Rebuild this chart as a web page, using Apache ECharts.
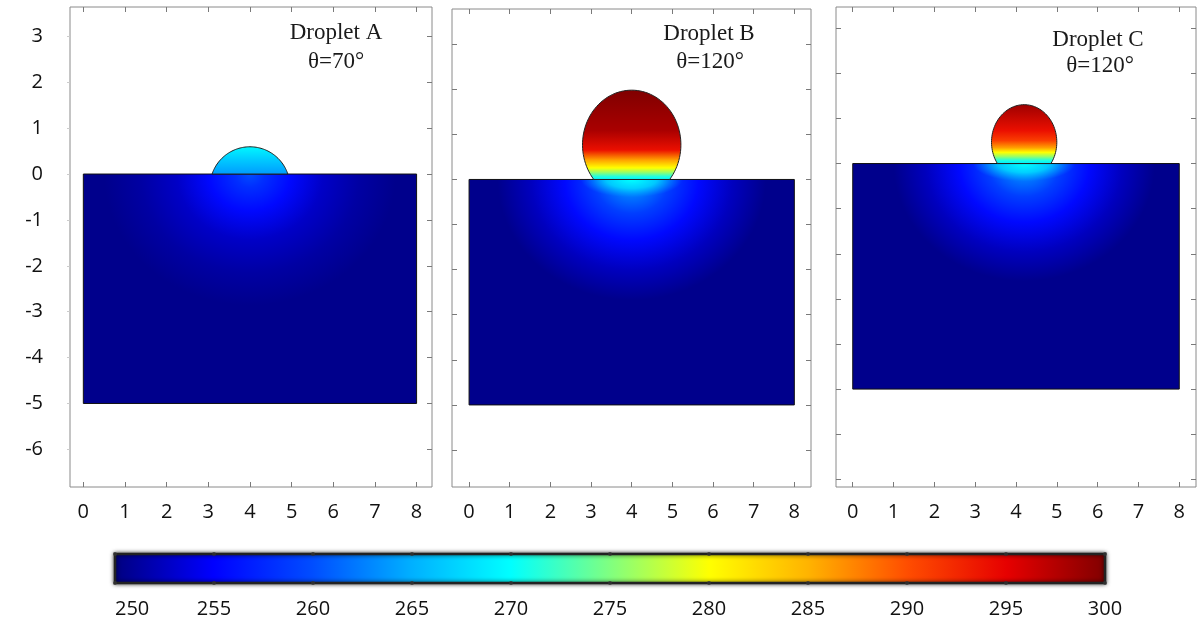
<!DOCTYPE html>
<html lang="en">
<head>
<meta charset="UTF-8">
<title>Droplet temperature</title>
<script src="https://cdn.jsdelivr.net/npm/echarts@6/dist/echarts.min.js"></script>
</head>
<body style="margin:0;background:#fff">
<div id="main" style="width:1199px;height:626px;"></div>
<script>
// tick labels
var xTicks = [0, 1, 2, 3, 4, 5, 6, 7, 8];
var yTicks = [[3, 2, 1, 0, -1, -2, -3, -4, -5, -6], [3, 2, 1, 0, -1, -2, -3, -4, -5, -6], [3, 2, 1, 0, -1, -2, -3, -4, -5, -6, -7]];

// colour bar (K) and the colour at each tick
var barTicks = [250, 255, 260, 265, 270, 275, 280, 285, 290, 295, 300];
var barColors = ['#00007f', '#0000ff', '#004dff', '#00b0ff', '#00ffff', '#80ff80', '#ffff00', '#ffb300', '#ff4d00', '#e60000', '#800000'];

var panelNames = ['Droplet A', 'Droplet B', 'Droplet C'];
var angleText = ['θ=70°', 'θ=120°', 'θ=120°'];

// substrate block, axis units
var substrateX = [0, 8];
var substrateY = [-5, 0];
var substrateTemp = 250.5;

// droplet outline = ellipse cut at y = 0
var dropCx = [4.0, 4.0, 4.2];
var dropCy = [-0.28, 0.77, 0.475];
var dropRx = [0.96, 1.21, 0.80];
var dropRy = [0.874, 1.21, 0.83];

// temperature inside the drop, from top (0) to contact line (1)
var dropPos = [[0, 0.5, 1], [0, 0.45, 0.67, 0.78, 0.87, 0.92, 0.97, 1], [0, 0.44, 0.61, 0.73, 0.81, 0.88, 0.95, 1]];
var dropTemp = [[269.5, 266.5, 264], [300, 298, 294, 286, 280, 276, 271, 270], [298.5, 294, 291, 286, 280, 276, 271, 269]];

// warm zone in substrate under the drop
var glowPos = [0, 0.1, 0.28, 0.5, 0.75, 1];
var glowTemp = [[260, 258, 255.5, 252.8, 251.4, substrateTemp], [266, 263, 259, 255.5, 252.5, substrateTemp], [266, 263, 259, 255.5, 252.5, substrateTemp]];
var glowRadius = [3.5, 3.3, 3.2];
var coreTemp = [null, [270, 268, 265], [270, 268, 265]];

// panel frames
var xMin = [-0.32, -0.42, -0.41], xMax = [8.37, 8.41, 8.41];
var yMin = [-6.82, -6.82, -7.17], yMax = [3.64, 3.78, 3.47];
var gridBox = [[70, 7, 362, 480], [452, 9, 359, 478], [836, 7, 360, 480]];
var labelPos = [[336, 33, 336, 62], [709, 34, 710, 62], [1098, 40, 1100, 66]];

function jet(t) {
    var f = (t - barTicks[0]) / (barTicks[barTicks.length - 1] - barTicks[0]);
    return echarts.color.lerp(Math.max(0, Math.min(1, f)), barColors);
}

function substrateItem(i) {
    return function (params, api) {
        var p0 = api.coord([substrateX[0], substrateY[1]]);
        var p1 = api.coord([substrateX[1], substrateY[0]]);
        var c = api.coord([dropCx[i], substrateY[1]]);
        var w = p1[0] - p0[0], h = p1[1] - p0[1];
        var r = api.size([glowRadius[i], 0])[0];
        var sq = 0.9;
        var stops = glowPos.map(function (p, k) { return { offset: p, color: jet(glowTemp[i][k]) }; });
        var kids = [{
            type: 'rect',
            shape: { x: p0[0], y: c[1], width: w, height: h / sq },
            originX: c[0], originY: c[1], scaleY: sq,
            style: { fill: { type: 'radial', x: c[0], y: c[1], r: r, global: true, colorStops: stops } }
        }];
        if (coreTemp[i]) {
            var rc = api.size([1.25, 0])[0];
            var sc = 0.35;
            var ct = coreTemp[i];
            kids.push({
                type: 'rect',
                shape: { x: p0[0], y: c[1], width: w, height: h / sc },
                originX: c[0], originY: c[1], scaleY: sc,
                style: {
                    fill: {
                        type: 'radial', x: c[0], y: c[1], r: rc, global: true, colorStops: [
                            { offset: 0, color: jet(ct[0]) },
                            { offset: 0.5, color: echarts.color.modifyAlpha(jet(ct[1]), 0.8) },
                            { offset: 1, color: echarts.color.modifyAlpha(jet(ct[2]), 0) }
                        ]
                    }
                }
            });
        }
        kids.push({
            type: 'rect',
            shape: { x: p0[0], y: p0[1], width: w, height: h },
            style: { fill: 'none', stroke: '#111', lineWidth: 1 }
        });
        return { type: 'group', children: kids };
    };
}

function dropItem(i) {
    return function (params, api) {
        var base = substrateY[1];
        var th0 = Math.asin((base - dropCy[i]) / dropRy[i]);
        var pts = [];
        var n = 80;
        for (var k = 0; k <= n; k++) {
            var th = th0 + (Math.PI - 2 * th0) * k / n;
            pts.push(api.coord([dropCx[i] + dropRx[i] * Math.cos(th), dropCy[i] + dropRy[i] * Math.sin(th)]));
        }
        var top = api.coord([dropCx[i], dropCy[i] + dropRy[i]]);
        var bot = api.coord([dropCx[i], base]);
        var stops = dropPos[i].map(function (p, k) { return { offset: p, color: jet(dropTemp[i][k]) }; });
        return {
            type: 'polygon',
            shape: { points: pts },
            style: {
                fill: { type: 'linear', x: top[0], y: top[1], x2: bot[0], y2: bot[1], global: true, colorStops: stops },
                stroke: '#222', lineWidth: 1
            }
        };
    };
}

var myChart = echarts.init(document.getElementById('main'));

var grids = [], xAxes = [], yAxes = [], series = [], graphics = [];
var tickStyle = { color: '#7a7a7a', width: 1 };
var numFont = { fontSize: 20, fontFamily: 'Open Sans', color: '#111' };
var noLine = { show: false, onZero: false };

for (var i = 0; i < 3; i++) {
    var g = gridBox[i];
    grids.push({ left: g[0], top: g[1], width: g[2], height: g[3], show: true, borderColor: '#8a8a8a', borderWidth: 1, backgroundColor: '#fff' });
    xAxes.push({
        gridIndex: i, type: 'value', min: xMin[i], max: xMax[i], position: 'bottom',
        axisLine: noLine, splitLine: { show: false },
        axisTick: { inside: true, length: 5, customValues: xTicks, lineStyle: tickStyle },
        axisLabel: Object.assign({ customValues: xTicks, margin: 15 }, numFont)
    });
    xAxes.push({
        gridIndex: i, type: 'value', min: xMin[i], max: xMax[i], position: 'top',
        axisLine: noLine, splitLine: { show: false }, axisLabel: { show: false },
        axisTick: { inside: true, length: 5, customValues: xTicks, lineStyle: tickStyle }
    });
    yAxes.push({
        gridIndex: i, type: 'value', min: yMin[i], max: yMax[i], position: 'left',
        axisLine: noLine, splitLine: { show: false },
        axisTick: { inside: i > 0, length: i > 0 ? 5 : 3, customValues: yTicks[i], lineStyle: { color: i > 0 ? '#7a7a7a' : '#ccc' } },
        axisLabel: Object.assign({ show: i === 0, customValues: yTicks[i], margin: 27 }, numFont)
    });
    yAxes.push({
        gridIndex: i, type: 'value', min: yMin[i], max: yMax[i], position: 'right',
        axisLine: noLine, splitLine: { show: false }, axisLabel: { show: false },
        axisTick: { inside: true, length: 5, customValues: yTicks[i], lineStyle: tickStyle }
    });
    series.push({
        type: 'custom', name: 'substrate ' + i, xAxisIndex: 2 * i, yAxisIndex: 2 * i,
        data: [[dropCx[i], 0]], renderItem: substrateItem(i), silent: true, z: 2
    });
    series.push({
        type: 'custom', name: panelNames[i], xAxisIndex: 2 * i, yAxisIndex: 2 * i,
        data: [[dropCx[i], 0]], renderItem: dropItem(i), silent: true, z: 3
    });
    var lp = labelPos[i];
    graphics.push({ type: 'text', x: lp[0], y: lp[1], style: { text: panelNames[i], font: '23px "Liberation Serif"', fill: '#1a1a1a', align: 'center', verticalAlign: 'middle' }, z: 10 });
    graphics.push({ type: 'text', x: lp[2], y: lp[3], style: { text: angleText[i], font: '23px "Liberation Serif"', fill: '#1a1a1a', align: 'center', verticalAlign: 'middle' }, z: 10 });
}

// colour bar
grids.push({ left: 115, top: 554, width: 990, height: 29 });
xAxes.push({
    gridIndex: 3, type: 'value', min: 250, max: 300, interval: 5,
    axisLine: noLine, axisTick: { show: false }, splitLine: { show: false },
    axisLabel: Object.assign({ margin: 16, alignMinLabel: 'left' }, numFont)
});
yAxes.push({ gridIndex: 3, type: 'value', min: 0, max: 1, show: false });
series.push({
    type: 'custom', name: 'colorbar', xAxisIndex: 6, yAxisIndex: 6, silent: true,
    data: [[barTicks[0], 0]],
    renderItem: function (params, api) {
        var a = api.coord([barTicks[0], 1]);
        var b = api.coord([barTicks[barTicks.length - 1], 0]);
        var stops = barColors.map(function (c, k) { return { offset: k / (barColors.length - 1), color: c }; });
        return {
            type: 'rect',
            shape: { x: a[0], y: a[1], width: b[0] - a[0], height: b[1] - a[1] },
            style: {
                fill: { type: 'linear', x: 0, y: 0, x2: 1, y2: 0, colorStops: stops },
                stroke: '#222', lineWidth: 2.5, shadowBlur: 4, shadowColor: 'rgba(0,0,0,0.7)'
            }
        };
    }
});
var dots = [];
barTicks.forEach(function (t) { dots.push([t, 0]); dots.push([t, 1]); });
series.push({
    type: 'scatter', xAxisIndex: 6, yAxisIndex: 6, data: dots, symbolSize: 4, silent: true, z: 5,
    itemStyle: { color: '#333' }
});

var option = {
    animation: false,
    backgroundColor: '#fff',
    grid: grids,
    xAxis: xAxes,
    yAxis: yAxes,
    series: series,
    graphic: { elements: graphics }
};
myChart.setOption(option);
</script>
</body>
</html>
